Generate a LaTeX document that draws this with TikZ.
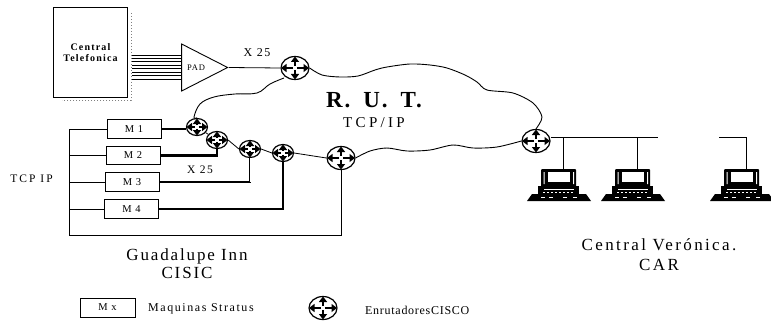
\documentclass[tikz,border=0pt]{standalone}
\usepackage{fontspec}
\setmainfont{Liberation Serif}
\usetikzlibrary{arrows.meta, shapes.geometric}
\tikzset{
    machine/.style={draw, line width=0.9pt, minimum width=54pt, minimum height=18.5pt, inner sep=0pt, font=\fontsize{10.5}{10}\selectfont\addfontfeatures{LetterSpace=12}},
    link/.style={line width=0.8pt},
    heavylink/.style={line width=2.1pt},
    cloudline/.style={line width=0.9pt},
    spoke/.style={line width=2.2pt, -{Triangle[length=5.5pt, width=8pt]}, shorten <=1.8pt},
    routerbig/.style={ellipse, draw, line width=1.2pt, minimum width=28pt, minimum height=23pt, inner sep=0pt, fill=white,
        path picture={
            \foreach \tip in {east, north, west, south}
                \draw[spoke] (path picture bounding box.center) -- (path picture bounding box.\tip);
        }},
    routersmall/.style={routerbig, minimum width=21pt, minimum height=17pt},
    computer/.style={minimum width=64pt, minimum height=33pt, inner sep=0pt,
        path picture={
            \begin{scope}[shift={(path picture bounding box.center)}]
                \fill[rounded corners=1pt] (-18,-17) rectangle (17,1);
                \fill[white] (-15.5,-14) rectangle (-14.5,-2) (14,-14) rectangle (15,-2);
                \fill[white] (-11,-14) rectangle (11,-4);
                \fill (-21,0) rectangle (20,9);
                \fill[white] (-15,3) rectangle (15,4);
                \foreach \x in {-16,-12,...,14}
                    \fill[white] (\x,6) rectangle (\x+2,7);
                \fill (-27,8) -- (27,8) -- (32,15) -- (-32,15) -- cycle;
                \foreach \x in {-18,-10,4,14}
                    \fill[white] (\x,11) rectangle (\x+4,12);
            \end{scope}
        }},
}
\begin{document}
\begin{tikzpicture}[x=1pt, y=-1pt]
    \useasboundingbox (0,0) rectangle (771,321);

    \node[draw, line width=1pt, minimum width=74pt, minimum height=89pt, inner sep=0pt, align=center,
        font=\fontsize{10}{11}\selectfont\bfseries\addfontfeatures{LetterSpace=12}] (central) at (90.5,52.5) {Central\\Telefonica};
    \draw[dotted, line width=1pt, gray] (131,13) -- (131,100) -- (62,100);

    \node[draw, line width=0.9pt, isosceles triangle, isosceles triangle stretches, minimum width=47pt, minimum height=46pt, inner sep=0pt] (pad) at (196,67.5) {};
    \node[font=\fontsize{8.5}{8}\selectfont\addfontfeatures{LetterSpace=10}] (padtext) at (196,68) {PAD};
    \foreach \y in {55,58,61,65,68,72,75,79}
        \draw[link] ([xshift=4pt]central.east |- 0,\y) -- (pad.lower side |- 0,\y);

    \node[routerbig] (rpad) at (295,68) {};
    \draw[link] (pad.apex) -- (rpad.west);
    \node[font=\fontsize{12}{12}\selectfont\addfontfeatures{LetterSpace=12}] (xpad) at (257,53) {X 25};

    \node[machine] (m1) at (134,129) {M 1};
    \node[machine] (m2) at (133,155.5) {M 2};
    \node[machine] (m3) at (132,182) {M 3};
    \node[machine] (m4) at (131.5,209) {M 4};

    \node[routersmall] (r1) at (197,127) {};
    \node[routersmall] (r2) at (217,140) {};
    \node[routersmall] (r3) at (250,149) {};
    \node[routersmall] (r4) at (283,153) {};
    \node[routerbig] (r5) at (341,158) {};
    \node[routerbig] (r6) at (536,141) {};

    \coordinate (busend) at (69,235);
    \draw[link] (m1.west) -| (busend);
    \draw[link] (m2.west) -- (m2.west -| busend);
    \draw[link] (m3.west) -- (m3.west -| busend);
    \draw[link] (m4.west) -- (m4.west -| busend);
    \draw[link] (busend) -| (r5.south);

    \draw[heavylink] (m1.east) -- (r1.west |- m1.east);
    \draw[heavylink] (m2.east) -| (r2.south);
    \draw[heavylink] (m3.east) -| (r3.south);
    \draw[white, line width=0.5pt] (r3.south) -- (r3.south |- m3.east);
    \draw[heavylink] (m4.east) -| (r4.south);

    \draw[link] (r1) -- (r2);
    \draw[link] (r2.east) -- (r3.west);
    \draw[link] (r3.east) -- (r4.west);
    \draw[link] (r4.east) -- (r5.west);

    \draw[cloudline] plot[smooth, tension=0.6] coordinates {(r1.north) (194,117) (200,104) (214,97) (235,94) (257,93) (270,84) (284,78)};
    \draw[cloudline] plot[smooth, tension=0.5] coordinates {(rpad.east) (322,75) (340,77) (358,76) (375,70) (387,67) (410,64) (430,65) (447,68) (465,75) (477,82) (487,90) (513,93) (533,103) (542,117) (r6.north)};
    \draw[cloudline] plot[smooth, tension=0.5] coordinates {(r6.west) (497,147) (473,148) (453,145) (430,150) (407,151) (387,148) (370,151) (r5.east)};

    \node[font=\fontsize{23}{23}\selectfont\bfseries\addfontfeatures{LetterSpace=8}] (rut) at (374,100) {R.\hspace{13pt}U.\hspace{13pt}T.};
    \node[font=\fontsize{15}{15}\selectfont\addfontfeatures{LetterSpace=22}] (tcpcloud) at (374,123) {TCP/IP};
    \node[font=\fontsize{11.5}{11}\selectfont\addfontfeatures{LetterSpace=14}] (x25) at (200,170) {X 25};
    \node[font=\fontsize{11.5}{11}\selectfont\addfontfeatures{LetterSpace=18}] (tcplan) at (31.5,179) {TCP IP};

    \node[computer] (pc1) at (559,186) {};
    \node[computer] (pc2) at (633,186) {};
    \node[computer] (pc3) at (742,186) {};
    \coordinate (drop1) at (563,137);
    \coordinate (drop2) at (637,137);
    \coordinate (lanend) at (658,137);
    \coordinate (lanstart) at (719,137);
    \coordinate (drop3) at (746,137);
    \draw[link] (r6.east |- drop1) -- (lanend);
    \draw[link] (drop1) -- (drop1 |- pc1.north);
    \draw[link] (drop2) -- (drop2 |- pc2.north);
    \draw[link] (lanstart) -- (drop3) -- (drop3 |- pc3.north);

    \node[font=\fontsize{17}{18}\selectfont\addfontfeatures{LetterSpace=11}, align=center] (guadalupe) at (187,263.5) {Guadalupe Inn\\CISIC};
    \node[font=\fontsize{17}{20}\selectfont\addfontfeatures{LetterSpace=14}, align=center] (veronica) at (659,255) {Central Verónica.\\CAR};

    \node[machine, minimum height=19pt, minimum width=55pt] (legendm) at (107.5,307.5) {M x};
    \node[anchor=west, inner sep=0pt, font=\fontsize{12}{12}\selectfont\addfontfeatures{LetterSpace=13}] (legendmtext) at (148,309) {Maquinas Stratus};
    \node[routerbig] (legendr) at (323,308) {};
    \node[anchor=west, inner sep=0pt, font=\fontsize{12}{12}\selectfont\addfontfeatures{LetterSpace=6}] (legendrtext) at (365,310) {EnrutadoresCISCO};
\end{tikzpicture}
\end{document}
